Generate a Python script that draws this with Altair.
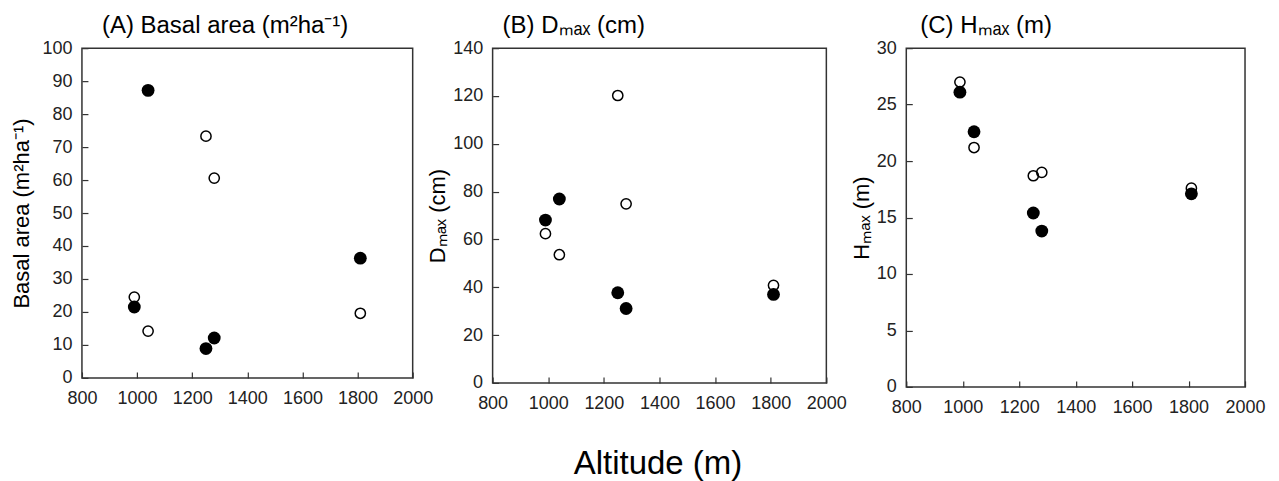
import altair as alt
import pandas as pd

altitude = [990, 1040, 1250, 1280, 1810]
basal_open = [24.5, 14.2, 73.3, 60.6, 19.6]
basal_filled = [21.5, 87.2, 8.9, 12.1, 36.3]
dmax_open = [62.4, 53.6, 120.2, 74.9, 40.8]
dmax_filled = [68.1, 76.9, 37.7, 31.1, 37.0]
hmax_open = [27.0, 21.2, 18.7, 19.0, 17.6]
hmax_filled = [26.1, 22.6, 15.4, 13.8, 17.1]
x_ticks = [800, 1000, 1200, 1400, 1600, 1800, 2000]

FONT = "Liberation Sans"


def panel(open_vals, filled_vals, ymax, ystep, ytitle, title, w, h, dx, tpad):
    df = pd.DataFrame({
        "alt": altitude * 2,
        "val": open_vals + filled_vals,
        "kind": ["open"] * 5 + ["filled"] * 5,
    })
    x = alt.X("alt:Q", scale=alt.Scale(domain=[800, 2000], nice=False, zero=False),
              axis=alt.Axis(values=x_ticks, title=None, format="d", labelOverlap=False,
                            labelFlush=False))
    y = alt.Y("val:Q", scale=alt.Scale(domain=[0, ymax], nice=False),
              axis=alt.Axis(values=list(range(0, ymax + 1, ystep)), title=ytitle,
                            titlePadding=tpad, format="d", labelOverlap=False,
                            labelFlush=False))
    base = alt.Chart(df).encode(x=x, y=y)
    o = base.transform_filter(alt.datum.kind == "open").mark_point(
        shape="circle", filled=False, stroke="black", strokeWidth=1.5, size=105, opacity=1)
    f = base.transform_filter(alt.datum.kind == "filled").mark_circle(
        color="black", size=165, opacity=1)
    return alt.layer(o, f).properties(
        width=w, height=h,
        title=alt.TitleParams(title, anchor="start", frame="group", dx=dx, fontSize=24,
                              font=FONT, fontWeight="normal", color="black", offset=1))


a = panel(basal_open, basal_filled, 100, 10, "Basal area (m²ha⁻¹)",
          "(A) Basal area (m²ha⁻¹)", 331, 330, 20, 8)
b = panel(dmax_open, dmax_filled, 140, 20, "Dₘₐₓ (cm)", "(B) Dₘₐₓ (cm)", 334, 335, 10, 3)
c = panel(hmax_open, hmax_filled, 30, 5, "Hₘₐₓ (m)", "(C) Hₘₐₓ (m)", 339, 339, 14, 3)

chart = alt.hconcat(a, b, c, spacing=80, bounds="flush").properties(
    padding={"left": 2, "top": 5, "right": 5, "bottom": 5},
    title=alt.TitleParams("Altitude (m)", orient="bottom", anchor="middle", fontSize=33,
                          font=FONT, fontWeight="normal", color="black", offset=30, dx=20)
).configure_view(stroke="#333", strokeWidth=1.5).configure_axis(
    offset=-6, tickSize=6, domain=False, grid=False, tickColor="#333", tickWidth=1.2,
    labelFont=FONT, labelFontSize=18, labelColor="#222", labelPadding=10,
    titleFont=FONT, titleFontSize=22, titleFontWeight="normal", titleColor="black"
).configure_axisX(labelPadding=12)

chart.save("out.html", embed_options={"renderer": "svg", "actions": False})
